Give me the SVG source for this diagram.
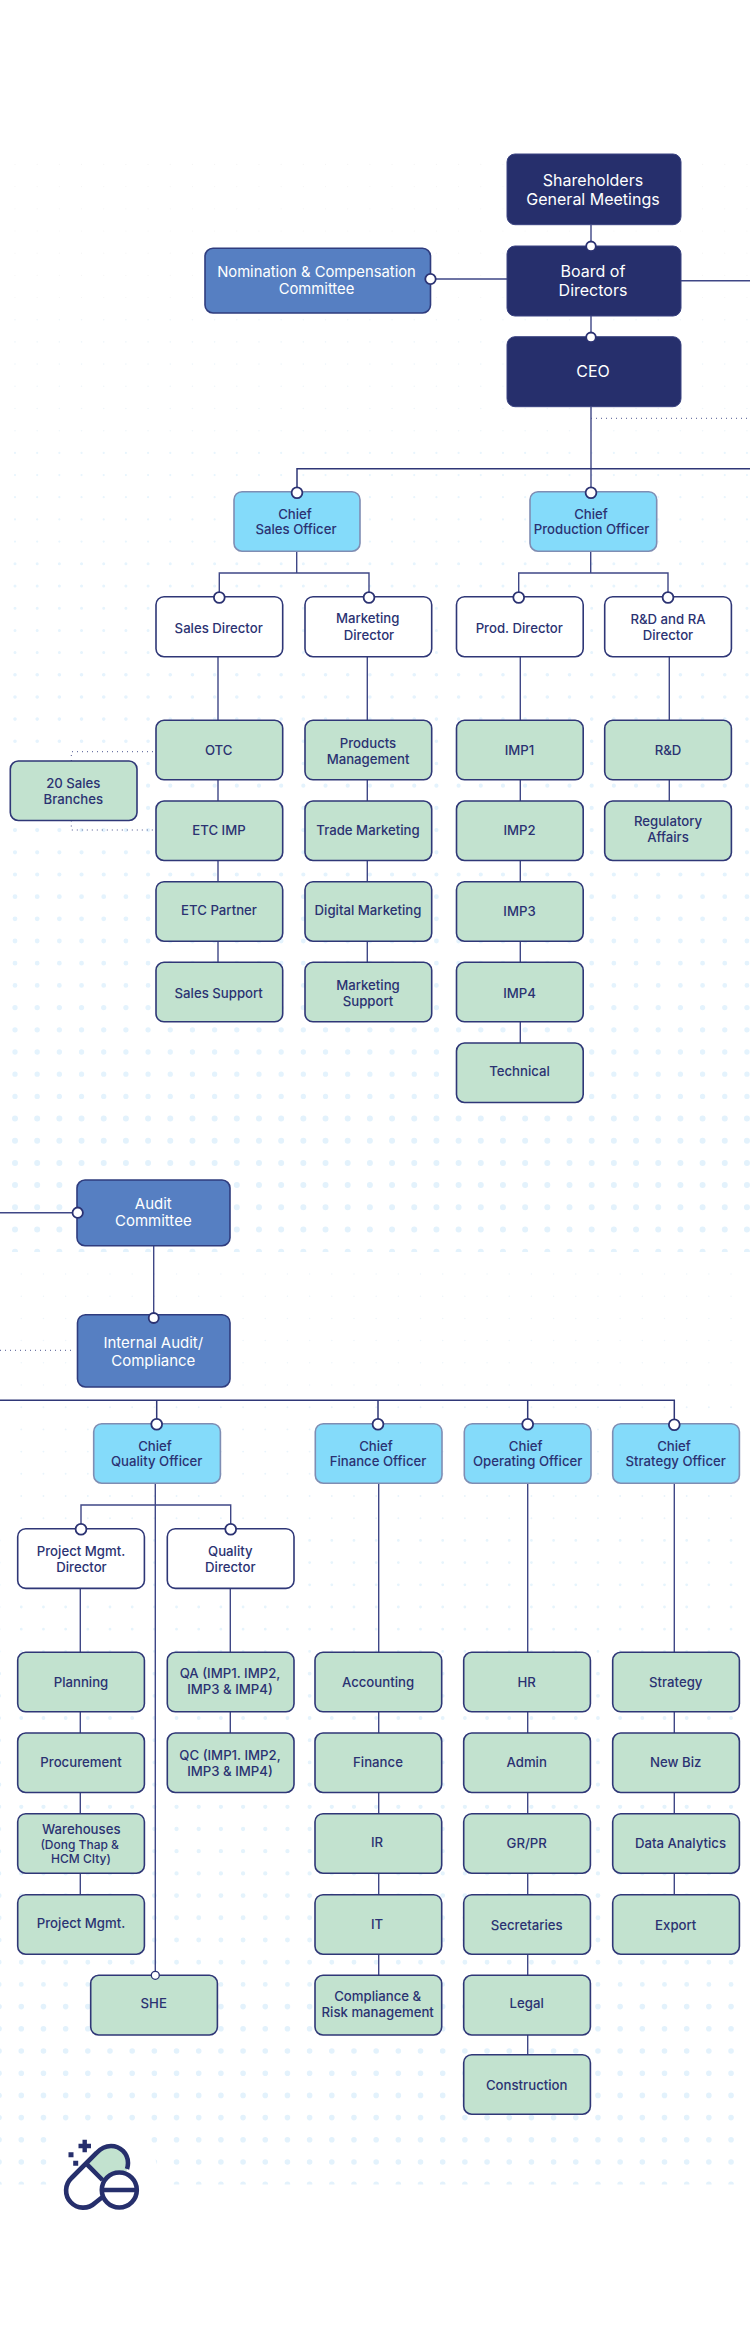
<svg xmlns="http://www.w3.org/2000/svg" width="750" height="2334" viewBox="0 0 750 2334">
<style>
text{font-family:Inter,"Noto Sans","Liberation Sans",sans-serif;text-anchor:middle;font-size:13.2px;font-weight:500;fill:#2b3272}
.w text,text.w{fill:#fff;font-weight:400;font-size:15px}
.w text.big{font-size:16px}
.w text.nom{font-size:14.8px}
rect{stroke-width:1.6}
.n{fill:#262f6c;stroke:#3a4381;stroke-width:1}
.b{fill:#567fc2;stroke:#2f3c7e}
.c{fill:#84dbfa;stroke:#7f8db3}
.d{fill:#fff;stroke:#2f3777}
.g{fill:#c2e2cf;stroke:#2f3777}
.l{fill:none;stroke:#3f4786;stroke-width:1.4}
.h{fill:none;stroke:#2f3777;stroke-width:1.5}
.o{fill:none;stroke:#4d5590;stroke-width:1;stroke-dasharray:1 4}
.p{fill:#fff;stroke:#2b3272;stroke-width:1.8}
.dots path{fill:none;stroke-linecap:round;stroke-dasharray:0 22.18}
</style>
<defs>
<clipPath id="c1"><rect x="0" y="150" width="750" height="1102" style="stroke:none"/></clipPath>
<clipPath id="c2"><rect x="0" y="1262" width="736" height="922.5" style="stroke:none"/></clipPath>
</defs>
<rect width="750" height="2334" fill="#fff" style="stroke:none"/>
<g class="dots" clip-path="url(#c1)">
<path stroke="#f5f5f5" stroke-width="1.2" d="M15 164.4H750M15 186.6H750M15 208.8H750M15 231H750M15 253.15H750M15 275.3H750M15 297.5H750"/>
<path stroke="#eff6fa" stroke-width="1.6" d="M15 319.7H750M15 341.9H750M15 364.1H750M15 386.3H750M15 408.5H750M15 430.7H750"/>
<path stroke="#e8f5fd" stroke-width="2.2" d="M15 452.9H750M15 475.05H750M15 497.2H750M15 519.4H750M15 541.6H750"/>
<path stroke="#e6f4fd" stroke-width="3" d="M15 563.8H750M15 586H750M15 608.2H750M15 630.4H750M15 652.6H750"/>
<path stroke="#e5f3fd" stroke-width="3.6" d="M15 674.8H750M15 696.95H750M15 719.1H750M15 741.3H750M15 763.5H750"/>
<path stroke="#e4f3fd" stroke-width="4.2" d="M15 785.7H750M15 807.9H750M15 830.1H750M15 852.3H750M15 874.5H750"/>
<path stroke="#e4f3fd" stroke-width="4.8" d="M15 896.7H750M15 918.85H750M15 941H750M15 963.2H750M15 985.4H750"/>
<path stroke="#e4f3fd" stroke-width="5.3" d="M15 1007.6H750M15 1029.8H750M15 1052H750M15 1074.2H750M15 1096.4H750"/>
<path stroke="#e3f2fc" stroke-width="6" d="M15 1118.6H750M15 1140.75H750M15 1162.9H750M15 1185.1H750M15 1207.3H750M15 1229.5H750M15 1251.7H750"/>
</g>
<g class="dots" clip-path="url(#c2)">
<path stroke="#eef5fa" stroke-width="1.5" d="M-0.9 1274H750M-0.9 1296.2H750M-0.9 1318.4H750M-0.9 1340.6H750M-0.9 1362.8H750M-0.9 1385H750"/>
<path stroke="#e9f4fb" stroke-width="1.9" d="M-0.9 1407.2H750M-0.9 1429.4H750M-0.9 1451.6H750M-0.9 1473.8H750M-0.9 1496H750M-0.9 1518.2H750"/>
<path stroke="#e6f4fc" stroke-width="2.8" d="M-0.9 1540.4H750M-0.9 1562.6H750M-0.9 1584.8H750M-0.9 1607H750M-0.9 1629.2H750M-0.9 1651.4H750"/>
<path stroke="#e5f3fc" stroke-width="3.8" d="M-0.9 1673.6H750M-0.9 1695.8H750M-0.9 1718H750M-0.9 1740.2H750M-0.9 1762.4H750"/>
<path stroke="#e4f3fc" stroke-width="4.3" d="M-0.9 1784.6H750M-0.9 1806.8H750M-0.9 1829H750M-0.9 1851.2H750M-0.9 1873.4H750"/>
<path stroke="#e4f3fc" stroke-width="4.9" d="M-0.9 1895.6H750M-0.9 1917.8H750M-0.9 1940H750M-0.9 1962.2H750M-0.9 1984.4H750"/>
<path stroke="#e3f2fc" stroke-width="5.6" d="M-0.9 2006.6H750M-0.9 2028.8H750M-0.9 2051H750M-0.9 2073.2H750M-0.9 2095.4H750M-0.9 2117.6H750M-0.9 2139.8H750M-0.9 2162H750M-0.9 2184.2H750"/>
</g>
<g id="connectors">
<path class="l" d="M591 225V246M591 316V337M591 407V492M430 279H507M681 280.7H750"/>
<path class="h" d="M297 492V468.7H750"/>
<path class="l" d="M296.7 551V573M219.3 596V573H369V596M218 657V720M218 780V801M218 860V882M218 941V962M367.3 657V720M367.3 780V801M367.3 860V882M367.3 941V962"/>
<path class="l" d="M590.7 551V573M518.7 596V573H668V596M520.3 657V720M520.3 780V801M520.3 860V882M520.3 941V962M520.3 1022V1043M669.3 657V720M669.3 780V801"/>
<path class="o" d="M71.3 761V751.7H156M71.3 820.5V830H156M591 418.3H750M0 1350.3H74"/>
<path class="l" d="M0 1212.7H77M153.7 1246V1315"/>
<path class="h" d="M0 1400.3H674.3V1424M156.7 1400.3V1424M378 1400.3V1424M527.7 1400.3V1424"/>
<path class="l" d="M155.3 1483V1975M81 1529V1505H230.7V1529M80.3 1588V1652M80.3 1712V1733M80.3 1792V1814M80.3 1873V1895M230.3 1588V1652M230.3 1712V1733"/>
<path class="l" d="M378.7 1483V1652M378.7 1712V1733M378.7 1792V1814M378.7 1873V1895M378.7 1954V1975M527.7 1483V1652M527.7 1712V1733M527.7 1792V1814M527.7 1873V1895M527.7 1954V1975M527.7 2035V2055M674.3 1483V1652M674.3 1712V1733M674.3 1792V1814M674.3 1873V1895"/>
</g>
<g id="shareholders" class="w"><rect class="n" x="507" y="154" width="174" height="70.7" rx="8"/><text class="big" x="593" y="185.5">Shareholders</text><text class="big" x="593" y="204.5">General Meetings</text></g>
<g id="board" class="w"><rect class="n" x="507" y="246" width="174" height="70" rx="8"/><text class="big" x="593" y="276.7">Board of</text><text class="big" x="593" y="296">Directors</text></g>
<g id="ceo" class="w"><rect class="n" x="507" y="336.7" width="174" height="70" rx="8"/><text class="big" x="593" y="377.3">CEO</text></g>
<g id="nomination" class="w"><rect class="b" x="205" y="248.3" width="225.5" height="64.7" rx="8"/><text class="nom" x="316.5" y="277">Nomination &amp; Compensation</text><text class="nom" x="316.5" y="294">Committee</text></g>
<g id="audit" class="w"><rect class="b" x="77" y="1180" width="153" height="65.7" rx="8"/><text x="153.3" y="1208.7">Audit</text><text x="153.3" y="1226">Committee</text></g>
<g id="internal-audit" class="w"><rect class="b" x="77.5" y="1314.7" width="152.5" height="72.3" rx="8"/><text x="153.3" y="1348.3">Internal Audit/</text><text x="153.3" y="1365.7">Compliance</text></g>
<g id="cso"><rect class="c" x="234" y="491.7" width="126" height="59.5" rx="8"/><text x="295" y="518.7">Chief</text><text x="296" y="534">Sales Officer</text></g>
<g id="cpo"><rect class="c" x="530" y="491.7" width="126.7" height="59.5" rx="8"/><text x="591" y="518.7">Chief</text><text x="591.6" y="534">Production Officer</text></g>
<g id="sales-dir"><rect class="d" x="156" y="596.7" width="126.7" height="60" rx="8"/><text x="218.7" y="632.7">Sales Director</text></g>
<g id="mkt-dir"><rect class="d" x="305" y="596.7" width="126.7" height="60" rx="8"/><text x="367.7" y="623.3">Marketing</text><text x="369" y="639.5">Director</text></g>
<g id="prod-dir"><rect class="d" x="456.5" y="596.7" width="126.7" height="60" rx="8"/><text x="519.3" y="632.9">Prod. Director</text></g>
<g id="rd-dir"><rect class="d" x="604.7" y="596.7" width="126.7" height="60" rx="8"/><text x="668" y="623.6">R&amp;D and RA</text><text x="668" y="639.6">Director</text></g>
<g id="branches"><rect class="g" x="10.3" y="761" width="126.7" height="59.5" rx="8"/><text x="73.3" y="787.7">20 Sales</text><text x="73.3" y="803.7">Branches</text></g>
<g id="otc"><rect class="g" x="156" y="720.3" width="126.7" height="59.5" rx="8"/><text x="218.7" y="754.5">OTC</text></g>
<g id="etc-imp"><rect class="g" x="156" y="801" width="126.7" height="59.5" rx="8"/><text x="219" y="835.3">ETC IMP</text></g>
<g id="etc-partner"><rect class="g" x="156" y="881.7" width="126.7" height="59.5" rx="8"/><text x="219" y="915.3">ETC Partner</text></g>
<g id="sales-support"><rect class="g" x="156" y="962.3" width="126.7" height="59.5" rx="8"/><text x="218.7" y="998">Sales Support</text></g>
<g id="products"><rect class="g" x="305" y="720.3" width="126.7" height="59.5" rx="8"/><text x="368" y="748.3">Products</text><text x="368" y="763.7">Management</text></g>
<g id="trade"><rect class="g" x="305" y="801" width="126.7" height="59.5" rx="8"/><text x="368" y="835.3">Trade Marketing</text></g>
<g id="digital"><rect class="g" x="305" y="881.7" width="126.7" height="59.5" rx="8"/><text x="368" y="914.7">Digital Marketing</text></g>
<g id="mkt-support"><rect class="g" x="305" y="962.3" width="126.7" height="59.5" rx="8"/><text x="368" y="990.3">Marketing</text><text x="368" y="1006">Support</text></g>
<g id="imp1"><rect class="g" x="456.5" y="720.3" width="126.7" height="59.5" rx="8"/><text x="519.5" y="754.6">IMP1</text></g>
<g id="imp2"><rect class="g" x="456.5" y="801" width="126.7" height="59.5" rx="8"/><text x="519.5" y="835.4">IMP2</text></g>
<g id="imp3"><rect class="g" x="456.5" y="881.7" width="126.7" height="59.5" rx="8"/><text x="519.5" y="915.7">IMP3</text></g>
<g id="imp4"><rect class="g" x="456.5" y="962.3" width="126.7" height="59.5" rx="8"/><text x="519.5" y="998.2">IMP4</text></g>
<g id="technical"><rect class="g" x="456.5" y="1043" width="126.7" height="59.5" rx="8"/><text x="519.5" y="1076">Technical</text></g>
<g id="rd"><rect class="g" x="604.7" y="720.3" width="126.7" height="59.5" rx="8"/><text x="668" y="754.6">R&amp;D</text></g>
<g id="regulatory"><rect class="g" x="604.7" y="801" width="126.7" height="59.5" rx="8"/><text x="668" y="826">Regulatory</text><text x="668" y="842">Affairs</text></g>
<g id="cqo"><rect class="c" x="93.7" y="1423.7" width="126.7" height="59.5" rx="8"/><text x="155" y="1450.7">Chief</text><text x="156.7" y="1466">Quality Officer</text></g>
<g id="cfo"><rect class="c" x="315.3" y="1423.7" width="126.7" height="59.5" rx="8"/><text x="376" y="1450.7">Chief</text><text x="378" y="1466">Finance Officer</text></g>
<g id="coo"><rect class="c" x="464.3" y="1423.7" width="126.7" height="59.5" rx="8"/><text x="525.7" y="1450.7">Chief</text><text x="527.7" y="1466">Operating Officer</text></g>
<g id="cstro"><rect class="c" x="612.7" y="1423.7" width="126.7" height="59.5" rx="8"/><text x="674" y="1450.7">Chief</text><text x="675.7" y="1466">Strategy Officer</text></g>
<g id="pm-dir"><rect class="d" x="17.7" y="1528.7" width="126.7" height="59.7" rx="8"/><text x="81" y="1555.7">Project Mgmt.</text><text x="81.5" y="1571.7">Director</text></g>
<g id="q-dir"><rect class="d" x="167.3" y="1528.7" width="126.7" height="59.7" rx="8"/><text x="230.3" y="1555.7">Quality</text><text x="230.3" y="1571.7">Director</text></g>
<g id="planning"><rect class="g" x="17.7" y="1652.3" width="126.7" height="59.5" rx="8"/><text x="81" y="1686.7">Planning</text></g>
<g id="procurement"><rect class="g" x="17.7" y="1733" width="126.7" height="59.5" rx="8"/><text x="81" y="1767.3">Procurement</text></g>
<g id="warehouses"><rect class="g" x="17.7" y="1813.7" width="126.7" height="59.5" rx="8"/><text x="81.3" y="1834.3">Warehouses</text><text x="79.7" y="1849" style="font-size:12px">(Dong Thap &amp;</text><text x="81" y="1863" style="font-size:12px">HCM CIty)</text></g>
<g id="project"><rect class="g" x="17.7" y="1894.7" width="126.7" height="59.5" rx="8"/><text x="81" y="1928.3">Project Mgmt.</text></g>
<g id="qa"><rect class="g" x="167.3" y="1652.3" width="126.7" height="59.5" rx="8"/><text x="230" y="1678.3">QA (IMP1. IMP2,</text><text x="230" y="1693.7">IMP3 &amp; IMP4)</text></g>
<g id="qc"><rect class="g" x="167.3" y="1733" width="126.7" height="59.5" rx="8"/><text x="230" y="1759.5">QC (IMP1. IMP2,</text><text x="230" y="1775.5">IMP3 &amp; IMP4)</text></g>
<g id="she"><rect class="g" x="90.7" y="1975.3" width="126.7" height="59.7" rx="8"/><text x="153.7" y="2007.7">SHE</text></g>
<g id="accounting"><rect class="g" x="315" y="1652.3" width="126.7" height="59.5" rx="8"/><text x="378" y="1687">Accounting</text></g>
<g id="finance"><rect class="g" x="315" y="1733" width="126.7" height="59.5" rx="8"/><text x="378" y="1767.3">Finance</text></g>
<g id="ir"><rect class="g" x="315" y="1813.7" width="126.7" height="59.5" rx="8"/><text x="377" y="1846.7">IR</text></g>
<g id="it"><rect class="g" x="315" y="1894.7" width="126.7" height="59.5" rx="8"/><text x="377" y="1929.3">IT</text></g>
<g id="compliance"><rect class="g" x="315" y="1975.3" width="126.7" height="59.7" rx="8"/><text x="377.7" y="2001">Compliance &amp;</text><text x="377.7" y="2017">Risk management</text></g>
<g id="hr"><rect class="g" x="463.7" y="1652.3" width="126.7" height="59.5" rx="8"/><text x="526.7" y="1687">HR</text></g>
<g id="admin"><rect class="g" x="463.7" y="1733" width="126.7" height="59.5" rx="8"/><text x="526.7" y="1767.3">Admin</text></g>
<g id="grpr"><rect class="g" x="463.7" y="1813.7" width="126.7" height="59.5" rx="8"/><text x="526.7" y="1847.7">GR/PR</text></g>
<g id="secretaries"><rect class="g" x="463.7" y="1894.7" width="126.7" height="59.5" rx="8"/><text x="526.7" y="1930">Secretaries</text></g>
<g id="legal"><rect class="g" x="463.7" y="1975.3" width="126.7" height="59.7" rx="8"/><text x="526.7" y="2007.7">Legal</text></g>
<g id="construction"><rect class="g" x="463.7" y="2054.7" width="126.7" height="59.5" rx="8"/><text x="526.7" y="2090">Construction</text></g>
<g id="strategy"><rect class="g" x="612.7" y="1652.3" width="126.7" height="59.5" rx="8"/><text x="675.7" y="1687">Strategy</text></g>
<g id="newbiz"><rect class="g" x="612.7" y="1733" width="126.7" height="59.5" rx="8"/><text x="675.7" y="1767.3">New Biz</text></g>
<g id="analytics"><rect class="g" x="612.7" y="1813.7" width="126.7" height="59.5" rx="8"/><text x="680.5" y="1847.7">Data Analytics</text></g>
<g id="export"><rect class="g" x="612.7" y="1894.7" width="126.7" height="59.5" rx="8"/><text x="675.7" y="1929.7">Export</text></g>
<g id="junctions">
<circle class="p" cx="591" cy="246.3" r="4.8"/><circle class="p" cx="591" cy="337.3" r="4.8"/><circle class="p" cx="430.5" cy="279" r="5.2"/><circle class="p" cx="297" cy="492.7" r="5.4"/><circle class="p" cx="591" cy="492.7" r="5.4"/>
<circle class="p" cx="219.3" cy="597.5" r="5.4"/><circle class="p" cx="369" cy="597.5" r="5.4"/><circle class="p" cx="518.7" cy="597.5" r="5.4"/><circle class="p" cx="668" cy="597.5" r="5.4"/>
<circle class="p" cx="77.7" cy="1212.7" r="5.2"/><circle class="p" cx="153.7" cy="1318" r="5"/>
<circle class="p" cx="156.7" cy="1424.3" r="5.4"/><circle class="p" cx="378" cy="1424.3" r="5.4"/><circle class="p" cx="527.7" cy="1424.3" r="5.4"/><circle class="p" cx="674.3" cy="1424.7" r="5.4"/>
<circle class="p" cx="81" cy="1529.3" r="5.4"/><circle class="p" cx="230.7" cy="1529.3" r="5.4"/><circle class="p" cx="155.3" cy="1975.3" r="4" style="stroke-width:1.3"/>
</g>
<g id="logo">
<circle cx="102" cy="2176" r="56" fill="#fff"/>
<path d="M86 2163.3L96.5 2153Q103 2146 111 2146A17 17 0 0 1 128 2163Q128 2172 122 2178L109 2184L101.7 2180Z" fill="#c2e2cf"/>
<path d="M86 2163.3L71.5 2178A17 17 0 0 0 95 2203L104 2194Z" fill="#fff"/>
<path d="M71.5 2178L96.5 2153Q103 2146 111 2146A17 17 0 0 1 128 2163Q128 2166 127 2169M102.5 2197L95 2203A17 17 0 0 1 71.5 2178M86 2163.3L102.5 2180" fill="none" stroke="#262f6c" stroke-width="4.6"/>
<circle cx="119.3" cy="2190" r="17.5" fill="#fff" stroke="#262f6c" stroke-width="4.6"/>
<path d="M102 2190H137M78.5 2146H91M84.7 2139.8V2152.2" fill="none" stroke="#262f6c" stroke-width="4.4"/>
<path d="M68.5 2152.2h5v5h-5zM73.2 2160.8h5v5h-5z" fill="#262f6c"/>
</g>
</svg>
